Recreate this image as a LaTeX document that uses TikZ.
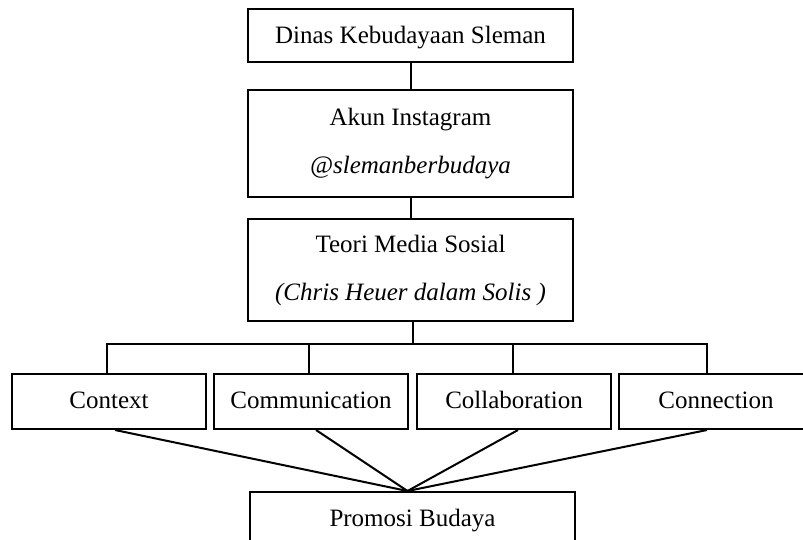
\documentclass[tikz,border=0pt]{standalone}
\usepackage{fontspec}
\setmainfont{Liberation Serif}
\begin{document}
\begin{tikzpicture}[x=1pt,y=-1pt,
  box/.style={draw, line width=2pt, inner sep=0pt, minimum width=325pt, align=center,
    font=\fontsize{25}{48}\selectfont},
  small/.style={draw, line width=2pt, inner sep=0pt, minimum width=194pt, minimum height=55pt,
    text height=18pt, text depth=4pt, font=\fontsize{25}{30}\selectfont},
  conn/.style={line width=2pt}]
\useasboundingbox (0,0) rectangle (803,539);
\clip (0,0) rectangle (803,539);
\node[box, minimum height=53pt, text height=18pt, text depth=3pt] (dinas) at (410.5,35.5) {Dinas Kebudayaan Sleman};
\node[box, minimum height=107pt] (akun) at (410.5,143.5) {Akun Instagram\\\textit{@slemanberbudaya}};
\node[box, minimum height=102pt] (teori) at (410.5,270) {Teori Media Sosial\\\textit{(Chris Heuer dalam Solis )}};
\node[small] (ctx) at (109,401.5) {Context};
\node[small] (com) at (311,401.5) {Communication};
\node[small] (col) at (514,401.5) {Collaboration};
\node[small] (con) at (716,401.5) {Connection};
\node[box, minimum height=55pt, text height=18pt, text depth=4pt] (pb) at (412.5,519.5) {Promosi Budaya};
\coordinate (hub) at ([xshift=-5pt]pb.north);
\draw[conn] (dinas) -- (akun);
\draw[conn] (akun) -- (teori);
\draw[conn] ([xshift=2pt]teori.south) -- ++(0,23);
\draw[conn] ([xshift=-2pt]ctx.north) -- ++(0,-29) -| ([xshift=-9pt]con.north);
\draw[conn] ([xshift=-2pt]com.north) -- ++(0,-29);
\draw[conn] ([xshift=-1pt]col.north) -- ++(0,-29);
\draw[conn] ([xshift=6pt]ctx.south) -- (hub);
\draw[conn] ([xshift=5pt]com.south) -- (hub);
\draw[conn] ([xshift=4pt]col.south) -- (hub);
\draw[conn] ([xshift=-9pt]con.south) -- (hub);
\end{tikzpicture}
\end{document}
